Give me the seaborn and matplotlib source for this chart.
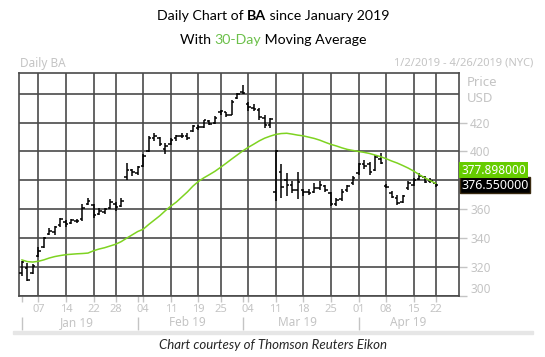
import numpy as np
import pandas as pd
import matplotlib
matplotlib.use("Agg")
import matplotlib.pyplot as plt
import seaborn as sns
from matplotlib.offsetbox import TextArea, HPacker, AnnotationBbox
from matplotlib.patches import Rectangle

sns.set_style("white")
plt.rcParams['font.family'] = ['Noto Sans', 'DejaVu Sans']

# trading days Jan 2 - Apr 26 2019 (NYSE holidays removed)
holidays = ['2019-01-21', '2019-02-18', '2019-04-19']
days = pd.bdate_range('2019-01-02', '2019-04-26')
days = days[~days.isin(pd.to_datetime(holidays))]

# daily OHLC for BA, Jan 2 - Apr 22
opens = [316.2, 319.5, 316.0, 328.0, 334.0, 343.0, 344.0, 349.0, 351.0, 350.5,
         352.0, 353.0, 364.0, 363.0, 357.0, 358.0, 361.0, 364.0, 362.0, 382.0,
         387.0, 385.0, 390.0, 400.0, 409.0, 409.0, 402.0, 405.0, 409.0, 410.5,
         411.0, 414.0, 416.0, 417.0, 421.0, 419.5, 427.0, 427.0, 425.5, 437.0,
         441.0, 433.0, 430.0, 429.0, 423.0, 418.0, 372.0, 386.0, 380.0, 377.0,
         373.0, 373.0, 372.0, 372.0, 375.0, 376.0, 371.0, 364.0, 367.0, 373.0,
         378.0, 385.0, 391.0, 391.0, 387.0, 395.0, 376.0, 371.5, 368.0, 365.0,
         374.5, 377.0, 381.0, 382.5, 379.5, 378.0]
highs = [324.0, 322.5, 322.0, 334.0, 341.0, 347.0, 348.5, 354.3, 352.5, 353.5,
         353.5, 364.0, 368.0, 364.0, 361.0, 361.0, 367.0, 365.0, 368.0, 392.0,
         388.0, 390.0, 398.0, 410.5, 413.0, 410.0, 406.0, 409.5, 411.5, 412.5,
         412.5, 418.5, 418.5, 422.0, 422.0, 424.5, 429.0, 427.5, 435.5, 440.5,
         446.0, 434.0, 432.5, 430.0, 425.5, 423.5, 401.0, 391.0, 385.0, 379.5,
         386.0, 374.0, 374.0, 378.0, 379.5, 377.0, 372.0, 368.0, 374.0, 377.0,
         383.0, 392.0, 394.0, 392.5, 397.5, 399.0, 377.5, 372.5, 370.0, 370.0,
         379.5, 381.5, 385.0, 383.0, 381.5, 378.5]
lows = [313.7, 310.3, 315.0, 327.0, 333.4, 342.0, 342.5, 347.5, 348.0, 350.0,
        350.5, 352.0, 363.0, 354.0, 356.0, 356.5, 360.0, 359.0, 361.5, 380.5,
        383.0, 384.0, 389.5, 399.5, 407.0, 403.5, 398.0, 404.5, 407.0, 409.0,
        408.0, 413.5, 415.0, 416.5, 418.0, 419.0, 425.5, 424.0, 425.0, 436.5,
        440.0, 428.0, 428.0, 421.5, 416.0, 416.0, 365.5, 368.0, 369.0, 371.0,
        367.0, 369.5, 370.0, 371.0, 373.5, 372.0, 362.5, 362.0, 366.0, 372.0,
        377.0, 384.0, 388.0, 384.0, 386.5, 391.5, 374.5, 367.5, 363.0, 364.5,
        373.5, 376.0, 380.0, 378.0, 378.0, 375.5]
closes = [323.8, 311.0, 321.0, 331.0, 340.0, 345.0, 347.5, 353.0, 350.0, 352.5,
          352.0, 361.0, 365.5, 356.0, 359.0, 360.0, 365.0, 361.5, 365.5, 387.0,
          385.6, 389.0, 397.0, 409.0, 411.0, 405.0, 404.0, 408.0, 410.5, 411.0,
          409.0, 417.5, 417.0, 421.5, 419.0, 423.0, 428.0, 425.0, 434.5, 439.5,
          440.6, 430.5, 429.5, 424.0, 418.0, 422.5, 400.0, 375.4, 377.0, 373.0,
          379.0, 372.0, 371.5, 375.0, 377.0, 373.0, 364.0, 366.5, 372.0, 376.0,
          381.4, 391.0, 390.0, 386.0, 396.0, 392.0, 375.5, 368.5, 364.5, 369.5,
          378.5, 380.5, 383.0, 379.0, 379.5, 376.55]
# 30-day moving average
ma30 = [325.0, 323.8, 323.5, 324.0, 325.0, 326.3, 327.3, 328.0, 328.6, 328.9,
        329.2, 329.4, 329.7, 331.3, 332.5, 333.4, 334.6, 335.8, 337.6, 340.0,
        342.3, 344.6, 346.2, 349.5, 352.5, 355.5, 359.0, 362.2, 365.0, 368.5,
        372.0, 376.0, 379.3, 381.8, 384.0, 386.3, 389.0, 391.8, 394.7, 397.5,
        400.3, 402.8, 405.0, 407.3, 409.2, 410.6, 411.8, 412.4, 412.6, 412.0,
        411.3, 410.8, 409.9, 409.0, 407.8, 406.3, 404.9, 403.8, 402.5, 401.4,
        400.7, 400.0, 399.4, 398.6, 397.5, 396.4, 395.0, 393.4, 392.0, 390.3,
        388.5, 386.4, 384.0, 381.8, 379.8, 377.898]

tick_days = ['2019-01-07', '2019-01-14', '2019-01-22', '2019-01-28', '2019-02-04',
             '2019-02-11', '2019-02-19', '2019-02-25', '2019-03-04', '2019-03-11',
             '2019-03-18', '2019-03-25', '2019-04-01', '2019-04-08', '2019-04-15',
             '2019-04-22']
tick_labels = ['07', '14', '22', '28', '04', '11', '19', '25', '04', '11', '18', '25',
               '01', '08', '15', '22']
months = ['Jan 19', 'Feb 19', 'Mar 19', 'Apr 19']
price_ticks = [300, 320, 340, 360, 380, 400, 420, 440]
price_labels = ['300', '320', '340', '360', '', '400', '420', '']

df = pd.DataFrame({'date': days[:len(closes)], 'open': opens, 'high': highs,
                   'low': lows, 'close': closes, 'ma': ma30})
df['i'] = np.arange(len(df))

grey = '#c4c4c4'
grid_c = '#4a4a4a'
green = '#7ed321'

fig = plt.figure(figsize=(5.45, 3.57), dpi=100)
ax = fig.add_axes([19 / 545, 1 - 296 / 357, 440 / 545, 223.3 / 357])

# OHLC bars
ax.vlines(df['i'], df['low'], df['high'], color='black', lw=1.1, zorder=3)
ax.hlines(df['open'], df['i'] - 0.45, df['i'], color='black', lw=1.1, zorder=3)
ax.hlines(df['close'], df['i'], df['i'] + 0.45, color='black', lw=1.1, zorder=3)

sns.lineplot(data=df, x='i', y='ma', ax=ax, color=green, lw=1.1, zorder=4)

ax.set_xlim(-0.5, 79.2)
ax.set_ylim(300.5, 454.5)
ax.set_xlabel('')
ax.set_ylabel('')

# x axis
tick_pos = [days.get_loc(pd.Timestamp(d)) for d in tick_days]
ax.set_xticks(tick_pos, tick_labels)
month_idx = [np.where(days.month == m)[0] for m in [1, 2, 3, 4]]
month_start = [m[0] for m in month_idx]
ax.set_xticks(month_start, minor=True)
ax.tick_params(axis='x', which='both', bottom=True, length=4, width=1, color=grey,
               labelcolor=grey, labelsize=8, pad=2)

# y axis on the right
ax.set_yticks(price_ticks, price_labels)
ax.yaxis.tick_right()
ax.tick_params(axis='y', length=6, width=1, color=grey, labelcolor=grey,
               labelsize=8.5, pad=2)
ax.yaxis.get_major_ticks()[-1].tick2line.set_visible(False)
ax.yaxis.get_major_ticks()[0].label2.set_verticalalignment('bottom')

ax.grid(True, color=grid_c, lw=1.2)
for s in ax.spines.values():
    s.set_color(grid_c)
    s.set_linewidth(1.2)

# month row under the day labels
xt = ax.get_xaxis_transform()
for name, idx in zip(months, month_idx):
    ax.text((idx[0] + idx[-1]) / 2, -0.12, name, transform=xt, ha='center',
            va='center', color=grey, fontsize=8.5, fontweight='bold')
ax.vlines(month_start, -0.152, -0.092, transform=xt, color=grey, lw=1, clip_on=False)
fig.patches.append(Rectangle((13 / 545, 1 - 334 / 357), 520 / 545, 3 / 357,
                             transform=fig.transFigure, color='#e6e6e6'))

# right side labels
yx = ax.get_yaxis_transform()
ax.text(1.017, 447.5, 'Price', transform=yx, color=grey, fontsize=9.5,
        fontweight='bold', va='center', ha='left')
ax.text(1.017, 436.5, 'USD', transform=yx, color=grey, fontsize=9.5,
        fontweight='bold', va='center', ha='left')

last_close = closes[-1]
last_ma = ma30[-1]
ax.annotate(f'{last_close:.6f}', xy=(1.0, last_close), xycoords=('axes fraction', 'data'),
            xytext=(1.5, 0), textcoords='offset points', ha='left', va='center',
            color='white', fontsize=9, fontweight='bold', zorder=10,
            bbox=dict(boxstyle='square,pad=0.12', fc='black', ec='#3a2a10'))
ax.annotate(f'{last_ma:.6f}', xy=(1.0, last_close), xycoords=('axes fraction', 'data'),
            xytext=(1.5, 11), textcoords='offset points', ha='left', va='center',
            color='white', fontsize=8.5, zorder=10,
            bbox=dict(boxstyle='square,pad=0.15', fc='#66cc00', ec='none'))

# header texts
fig.text(20 / 545, 1 - 63 / 357, 'Daily BA', color=grey, fontsize=8.5,
         fontweight='bold', va='center', ha='left')
fig.text(533 / 545, 1 - 63 / 357, '1/2/2019 - 4/26/2019 (NYC)', color=grey,
         fontsize=8, va='center', ha='right')

tfont = dict(fontfamily='Lato', fontsize=10.2, color='black')
line1 = HPacker(children=[TextArea('Daily Chart of ', textprops=tfont),
                          TextArea('BA', textprops=dict(tfont, fontweight='bold')),
                          TextArea(' since January 2019', textprops=tfont)],
                sep=0, pad=0, align='baseline')
line2 = HPacker(children=[TextArea('With ', textprops=tfont),
                          TextArea('30-Day', textprops=dict(tfont, color='#6cc04a')),
                          TextArea(' Moving Average', textprops=tfont)],
                sep=0, pad=0, align='baseline')
for box, y in [(line1, 16), (line2, 40)]:
    ab = AnnotationBbox(box, (273 / 545, 1 - y / 357), xycoords='figure fraction',
                        frameon=False, box_alignment=(0.5, 0.5), pad=0)
    fig.add_artist(ab)

fig.text(273 / 545, 1 - 345 / 357, 'Chart courtesy of Thomson Reuters Eikon',
         fontfamily='Lato', fontstyle='italic', fontsize=9.5, ha='center', va='center')

fig.savefig('out.png', dpi=100)
